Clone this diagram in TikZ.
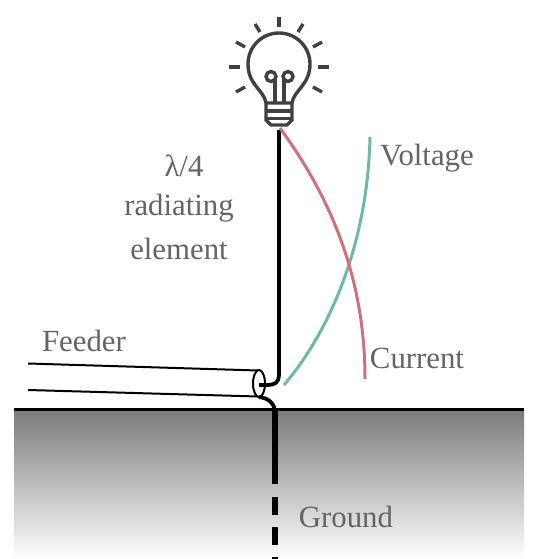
\documentclass[tikz,border=0pt]{standalone}
\usepackage{fontspec}
\setmainfont{Liberation Serif}
\definecolor{bulbc}{RGB}{64,64,64}
\definecolor{labelc}{RGB}{100,100,100}
\definecolor{voltc}{RGB}{110,184,168}
\definecolor{currc}{RGB}{208,112,122}
\definecolor{groundc}{RGB}{122,122,122}
\tikzset{
  label text/.style={text=labelc, font=\fontsize{30.8}{36}\selectfont, inner sep=0pt},
  bulb line/.style={draw=bulbc, line width=3.4pt},
  ray line/.style={draw=bulbc, line width=3.4pt},
  wire/.style={draw=black, line width=3.8pt},
  feeder line/.style={draw=black, line width=2pt},
}
\begin{document}
\begin{tikzpicture}[x=1pt,y=-1pt]
  \useasboundingbox (0,0) rectangle (540,559);
  % ground
  \fill[top color=groundc, bottom color=white] (14,409) rectangle (524,559);
  \draw[black, line width=3pt] (14,409) -- (524,409);
  \draw[black, line width=5.4pt] (275,411) -- (275,484);
  \draw[black, line width=5.4pt] (275,497) -- (275,515);
  \draw[black, line width=5.4pt] (275,527) -- (275,545);
  \draw[black, line width=5.4pt] (275,557) -- (275,559);
  % feeder
  \draw[feeder line] (28,363.5) -- (258,370.5);
  \draw[feeder line] (28,390) -- (258,396.5);
  \draw[feeder line] (259,383.5) ellipse (6pt and 13.5pt);
  \draw[wire] (279,130) -- (279,375) .. controls (279,382) and (275,385) .. (268,385) -- (259,385);
  \draw[wire] (259,397) .. controls (268,398) and (275,403) .. (275,413);
  % curves
  \draw[voltc, line width=3pt] (370,137) .. controls (368,235) and (335,325) .. (284,385);
  \draw[currc, line width=3pt] (280,128) .. controls (325,190) and (365,270) .. (365,379);
  % bulb
  \draw[bulb line] (266,103) .. controls (264,90) and (248,85) .. (248,64)
    arc[start angle=180, end angle=360, radius=31]
    .. controls (310,85) and (294,90) .. (292,103);
  \draw[bulb line] (271,76.5) circle (5pt);
  \draw[bulb line] (288,76.5) circle (5pt);
  \draw[bulb line] (275,102) -- (275,79);
  \draw[bulb line] (284,102) -- (284,79);
  \draw[bulb line, fill=white] (266,103) -- (292,103) -- (292,120) -- (287,125) -- (271,125) -- (266,120) -- cycle;
  \draw[bulb line] (266,111) -- (292,111);
  \draw[bulb line] (266,118.5) -- (292,118.5);
  \draw[ray line] (279,17) -- (279,27);
  \draw[ray line] (255,24) -- (260,32);
  \draw[ray line] (303,24) -- (298,32);
  \draw[ray line] (236,42) -- (245,47);
  \draw[ray line] (322,42) -- (313,47);
  \draw[ray line] (229,67) -- (240,67);
  \draw[ray line] (318,67) -- (329,67);
  \draw[ray line] (236,92) -- (245,87);
  \draw[ray line] (322,92) -- (313,87);
  % labels
  \node[label text] (lambda) at (184,166) {λ/4};
  \node[label text] (radiating) at (179,208) {radiating};
  \node[label text] (element) at (179,249) {element};
  \node[label text] (voltage) at (427,158) {Voltage};
  \node[label text] (current) at (417,358) {Current};
  \node[label text] (feeder) at (84,341) {Feeder};
  \node[label text] (ground) at (346,517) {Ground};
\end{tikzpicture}
\end{document}
